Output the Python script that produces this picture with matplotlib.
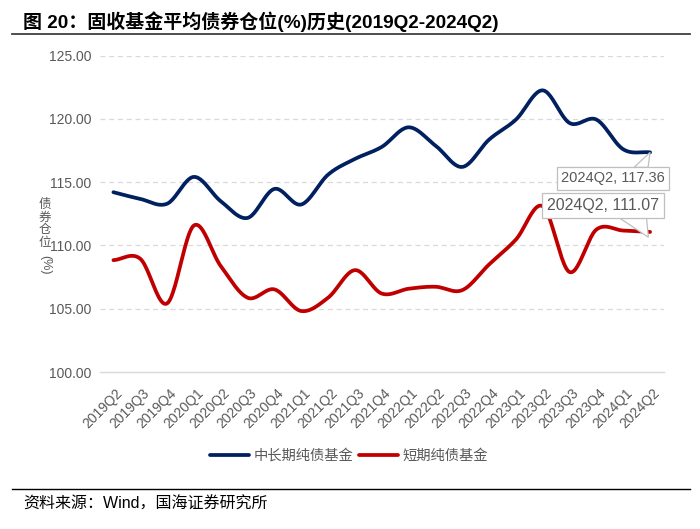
import numpy as np
import matplotlib
matplotlib.use("Agg")
import matplotlib.pyplot as plt
from matplotlib.lines import Line2D
from matplotlib.patches import Polygon
from matplotlib.transforms import ScaledTranslation

plt.rcParams['font.family'] = ['Liberation Sans', 'Noto Sans CJK SC', 'DejaVu Sans']

quarters = ["2019Q2", "2019Q3", "2019Q4", "2020Q1", "2020Q2", "2020Q3", "2020Q4",
            "2021Q1", "2021Q2", "2021Q3", "2021Q4", "2022Q1", "2022Q2", "2022Q3",
            "2022Q4", "2023Q1", "2023Q2", "2023Q3", "2023Q4", "2024Q1", "2024Q2"]
long_term = [114.21, 113.68, 113.30, 115.42, 113.50, 112.18, 114.47, 113.24, 115.60,
             116.84, 117.79, 119.34, 117.90, 116.21, 118.37, 119.95, 122.26, 119.68,
             119.95, 117.60, 117.36]
short_term = [108.84, 108.95, 105.42, 111.58, 108.37, 105.87, 106.53, 104.82, 105.87,
              108.05, 106.20, 106.58, 106.74, 106.47, 108.50, 110.47, 113.10, 107.90,
              111.26, 111.18, 111.07]
series_names = ["中长期纯债基金", "短期纯债基金"]
series_colors = ["#002060", "#C00000"]
yticks = [100, 105, 110, 115, 120, 125]

GRAY = "#595959"


def smooth(xs, ys, n=24):
    """Catmull-Rom rendering of a line through the given points."""
    xs = np.asarray(xs, float)
    ys = np.asarray(ys, float)
    px = np.concatenate([[2 * xs[0] - xs[1]], xs, [2 * xs[-1] - xs[-2]]])
    py = np.concatenate([[2 * ys[0] - ys[1]], ys, [2 * ys[-1] - ys[-2]]])
    ox, oy = [], []
    t = np.linspace(0, 1, n, endpoint=False)
    for i in range(1, len(px) - 2):
        for arr, out in ((px, ox), (py, oy)):
            p0, p1, p2, p3 = arr[i - 1], arr[i], arr[i + 1], arr[i + 2]
            out.extend(0.5 * ((2 * p1) + (-p0 + p2) * t +
                              (2 * p0 - 5 * p1 + 4 * p2 - p3) * t ** 2 +
                              (-p0 + 3 * p1 - 3 * p2 + p3) * t ** 3))
    ox.append(xs[-1])
    oy.append(ys[-1])
    return np.array(ox), np.array(oy)


fig = plt.figure(figsize=(7.0, 5.29), dpi=100)
ax = fig.add_axes([100 / 700, 1 - 372 / 529, 563.5 / 700, (372 - 55.7) / 529])

x = np.arange(len(quarters))
for vals, name, col in zip([long_term, short_term], series_names, series_colors):
    sx, sy = smooth(x, vals)
    ax.plot(sx, sy, color=col, lw=2.7, label=name, solid_capstyle='round', zorder=3)

ax.set_xlim(-0.5, len(quarters) - 0.5)
ax.set_ylim(100, 125)
ax.set_yticks(yticks)
ax.set_yticklabels([f"{v:.2f}" for v in yticks], fontsize=10, color=GRAY)
for v in yticks[1:]:
    ax.axhline(v, color="#D9D9D9", lw=0.9, dashes=(4, 3), zorder=1)
for s in ["top", "right", "left"]:
    ax.spines[s].set_visible(False)
ax.spines["bottom"].set_color("#D9D9D9")
ax.spines["bottom"].set_linewidth(1.0)
ax.tick_params(axis='y', length=0, pad=6)
ax.tick_params(axis='x', length=0, pad=13.5)
ax.set_xticks(x)
ax.set_xticklabels(quarters, rotation=45, ha='right', va='center',
                   rotation_mode='anchor', fontsize=10, color=GRAY)
off = ScaledTranslation(7 / 100, 0, fig.dpi_scale_trans)
for lab in ax.get_xticklabels():
    lab.set_transform(lab.get_transform() + off)

# callout annotations (offsets in pixels relative to the data point, y up)
last = len(quarters) - 1
callouts = [
    (long_term[last], 10.5, (-37, -26), [(-16, -15), (-2, -15), (0, 0)]),
    (short_term[last], 11.5, (-47, 26.5), [(-30, 13.5), (-3.5, 13.5), (-1.7, -5.3)]),
]
for val, fs, (dx, dy), poly in callouts:
    anchor = ScaledTranslation(last, val, ax.transData)
    ptrans = fig.dpi_scale_trans + anchor
    ax.add_patch(Polygon([(px / 100, py / 100) for px, py in poly], closed=True,
                         fc='white', ec='#BFBFBF', lw=0.9, transform=ptrans,
                         zorder=5, clip_on=False))
    ax.annotate(f"{quarters[last]}, {val:.2f}", xy=(last, val),
                xytext=(dx * 0.72, dy * 0.72), textcoords='offset points',
                fontsize=fs, color=GRAY, ha='center', va='center', zorder=6,
                bbox=dict(boxstyle='square,pad=0.3', fc='white', ec='#BFBFBF', lw=0.9))

# y label, stacked characters
fig.text(45 / 700, 1 - 224 / 529, "债\n券\n仓\n位", fontsize=9, color=GRAY,
         ha='center', va='center', linespacing=1.05)
fig.text(45 / 700, 1 - 265 / 529, "(%)", fontsize=9, color=GRAY,
         ha='center', va='center', rotation=-90)

# legend
fig.legend(loc='center', bbox_to_anchor=(349 / 700, 1 - 455.7 / 529), ncol=2,
           frameon=False, fontsize=10.3, labelcolor=GRAY, handlelength=2.7,
           handletextpad=0.35, columnspacing=0.4)

# title and source
fig.text(23 / 700, 1 - 21.7 / 529, "图 20：固收基金平均债券仓位(%)历史(2019Q2-2024Q2)",
         fontsize=13.7, fontweight='bold', color='black', ha='left', va='center')
fig.add_artist(Line2D([11.7 / 700, 690 / 700], [1 - 34 / 529, 1 - 34 / 529],
                      color='#404040', lw=1.3))
fig.add_artist(Line2D([12 / 700, 690 / 700], [1 - 489 / 529, 1 - 489 / 529],
                      color='black', lw=1.0))
fig.text(23 / 700, 1 - 504 / 529, "资料来源：Wind，国海证券研究所", fontsize=11.5,
         color='black', ha='left', va='center')

fig.savefig("out.png", dpi=100)
